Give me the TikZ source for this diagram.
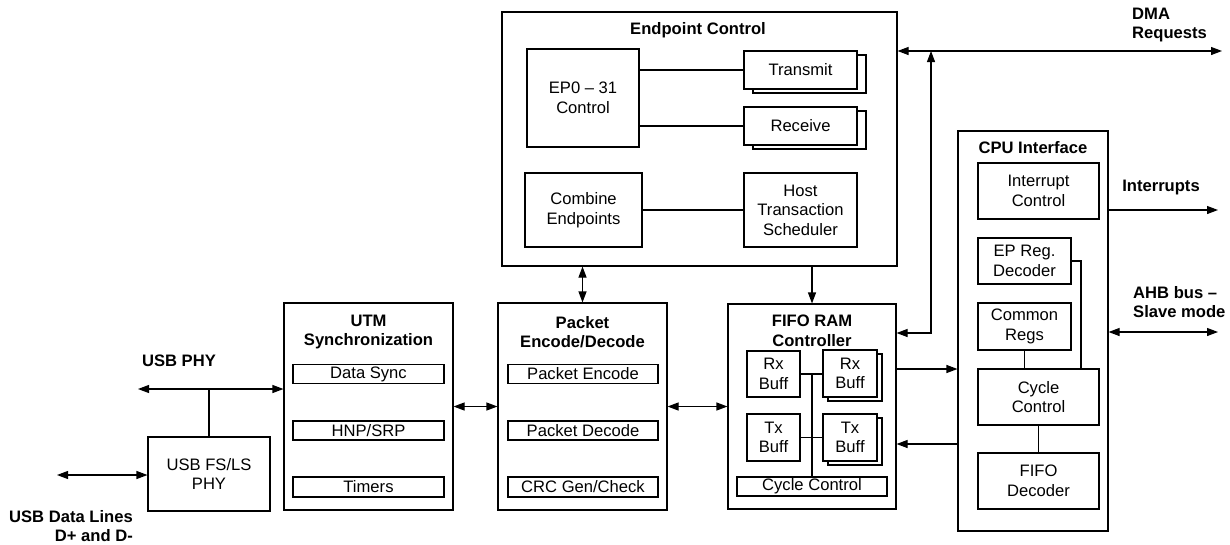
\documentclass[tikz,border=0pt]{standalone}
\usepackage{fontspec}
\setmainfont{Liberation Sans}
\usetikzlibrary{arrows.meta,shadows,positioning}
\newcommand{\blkfont}{\fontsize{16.6}{19.5}\selectfont}

\begin{document}
\begin{tikzpicture}[x=1pt, y=-1pt,
  blk/.style={draw, line width=1.1pt, fill=white, align=center, inner sep=0pt, font=\blkfont},
  stk/.style={blk, copy shadow={shadow xshift=#1, shadow yshift=-4pt}},
  stk/.default=5pt,
  ttl/.style={font=\blkfont\bfseries, align=center, inner sep=0pt},
  arr/.style={-{Triangle[length=11pt, width=8pt]}, line width=1.1pt},
  darr/.style={{Triangle[length=11pt, width=8pt]}-{Triangle[length=11pt, width=8pt]}, line width=1.1pt},
  wire/.style={line width=1.1pt},
]
\useasboundingbox (0,0) rectangle (1230,544);

% === Endpoint control ===
\node[blk, minimum width=395pt, minimum height=254pt] (ec) at (699.5,139) {};
\node[ttl] (ectl) at (698,30) {Endpoint Control};
\node[blk, minimum width=112pt, minimum height=98pt] (ep) at (583,98) {EP0 -- 31\\Control};
\node[stk=9pt, minimum width=113pt, minimum height=38pt] (tx) at (800.5,70) {Transmit};
\node[stk=9pt, minimum width=113pt, minimum height=38pt] (rx) at (800.5,126) {Receive};
\node[blk, minimum width=117pt, minimum height=74pt] (cmb) at (583.5,210) {Combine\\Endpoints};
\node[blk, minimum width=113pt, minimum height=74pt] (hts) at (800.5,210) {Host\\Transaction\\Scheduler};
\draw[wire] (ep.east |- tx) -- (tx);
\draw[wire] (ep.east |- rx) -- (rx);
\draw[wire] (cmb) -- (hts);

% === USB PHY ===
\node[blk, minimum width=122pt, minimum height=74pt] (phy) at (209,474) {USB FS/LS\\PHY};
\node[ttl] (phyt) at (179,361) {USB PHY};
\node[ttl, anchor=east, align=right] (dlt) at (133,526) {USB Data Lines\\D+ and D-};

% === UTM synchronization ===
\node[blk, minimum width=169pt, minimum height=207pt] (utm) at (368.5,406.5) {};
\node[ttl] (utmt) at (368.5,332) {UTM\\Synchronization};
\node[blk, minimum width=151pt, minimum height=19pt] (ds) at (368.5,374) {Data Sync};
\node[blk, minimum width=151pt, minimum height=19pt] (hnp) at (368.5,430.5) {HNP/SRP};
\node[blk, minimum width=151pt, minimum height=20pt] (tmr) at (368.5,487) {Timers};

% === Packet encode/decode ===
\node[blk, minimum width=169pt, minimum height=207pt] (pkt) at (582.5,406.5) {};
\node[ttl] (pktt) at (582.5,332) {Packet\\Encode/Decode};
\node[blk, minimum width=150pt, minimum height=19pt] (penc) at (583,374) {Packet Encode};
\node[blk, minimum width=150pt, minimum height=19pt] (pdec) at (583,430.5) {Packet Decode};
\node[blk, minimum width=150pt, minimum height=20pt] (crc) at (583,487) {CRC Gen/Check};

% === FIFO RAM controller ===
\node[blk, minimum width=168pt, minimum height=205pt] (fifo) at (812,406.5) {};
\node[ttl] (fifot) at (812,331) {FIFO RAM\\Controller};
\node[blk, minimum width=53pt, minimum height=46pt] (rxa) at (773.5,374) {Rx\\Buff};
\node[stk, minimum width=54pt, minimum height=47pt] (rxb) at (850,373.5) {Rx\\Buff};
\node[blk, minimum width=53pt, minimum height=47pt] (txa) at (773.5,437.5) {Tx\\Buff};
\node[stk, minimum width=54pt, minimum height=47pt] (txb) at (850,437.5) {Tx\\Buff};
\node[blk, minimum width=150pt, minimum height=19pt] (cyc) at (812,486.5) {Cycle Control};
\draw[wire] (rxa) -- (rxb.west |- rxa);
\draw[wire] (txa) -- (txb.west |- txa);
\draw[wire, line width=1.6pt] (cyc.north -| 812,0) -- (812,374);

% === CPU interface ===
\node[blk, minimum width=150pt, minimum height=400pt] (cpu) at (1033,331) {};
\node[ttl] (cput) at (1033,148) {CPU Interface};
\node[blk, minimum width=121pt, minimum height=56pt] (irq) at (1038.5,191) {Interrupt\\Control};
\node[blk, minimum width=93pt, minimum height=46pt] (epr) at (1024.5,261) {EP Reg.\\Decoder};
\node[blk, minimum width=93pt, minimum height=47pt] (cmn) at (1024.5,326.5) {Common\\Regs};
\node[blk, minimum width=121pt, minimum height=56pt] (ccy) at (1038.5,397) {Cycle\\Control};
\node[blk, minimum width=121pt, minimum height=56pt] (fdec) at (1038.5,481) {FIFO\\Decoder};
\coordinate (eprk) at (1081,261);
\draw[wire] (cmn) -- (cmn |- ccy.north);
\draw[wire] (ccy) -- (fdec);
\draw[wire] (epr.east) -- (eprk) -- (eprk |- ccy.north);

% === Connections ===
\coordinate (phyl) at (138,389);
\coordinate (dl) at (57,475);
\draw[darr] (phyl) -- (phyl -| utm.west);
\draw[wire] (phy.north) -- (phy.north |- phyl);
\draw[darr] (dl) -- (phy.west |- dl);
\draw[darr] (utm) -- (pkt);
\draw[darr] (pkt) -- (fifo);
\draw[darr] (ec.south -| pkt.north) -- (pkt.north);
\draw[arr] (ec.south -| fifo.north) -- (fifo.north);
\draw[arr] (fifo.east |- 0,369) -- (cpu.west |- 0,369);
\draw[arr] (cpu.west |- 0,444) -- (fifo.east |- 0,444);

% === DMA, interrupts, AHB ===
\coordinate (dmar) at (1222,51);
\coordinate (dmaj) at (931,51);
\coordinate (dmab) at (931,333);
\draw[darr] (ec.east |- dmar) -- (dmar);
\draw[darr] (fifo.east |- dmab) -- (dmab) -- (dmaj);
\node[ttl, anchor=west, align=left] (dmat) at (1132,25) {DMA\\Requests};
\coordinate (irqo) at (1218,210);
\draw[arr] (cpu.east |- irqo) -- (irqo);
\node[ttl] (irqt) at (1161,188) {Interrupts};
\coordinate (ahbo) at (1218,332);
\draw[darr] (cpu.east |- ahbo) -- (ahbo);
\node[ttl, anchor=west, align=left] (ahbt) at (1133,302) {AHB bus --\\Slave mode};

\end{tikzpicture}
\end{document}
